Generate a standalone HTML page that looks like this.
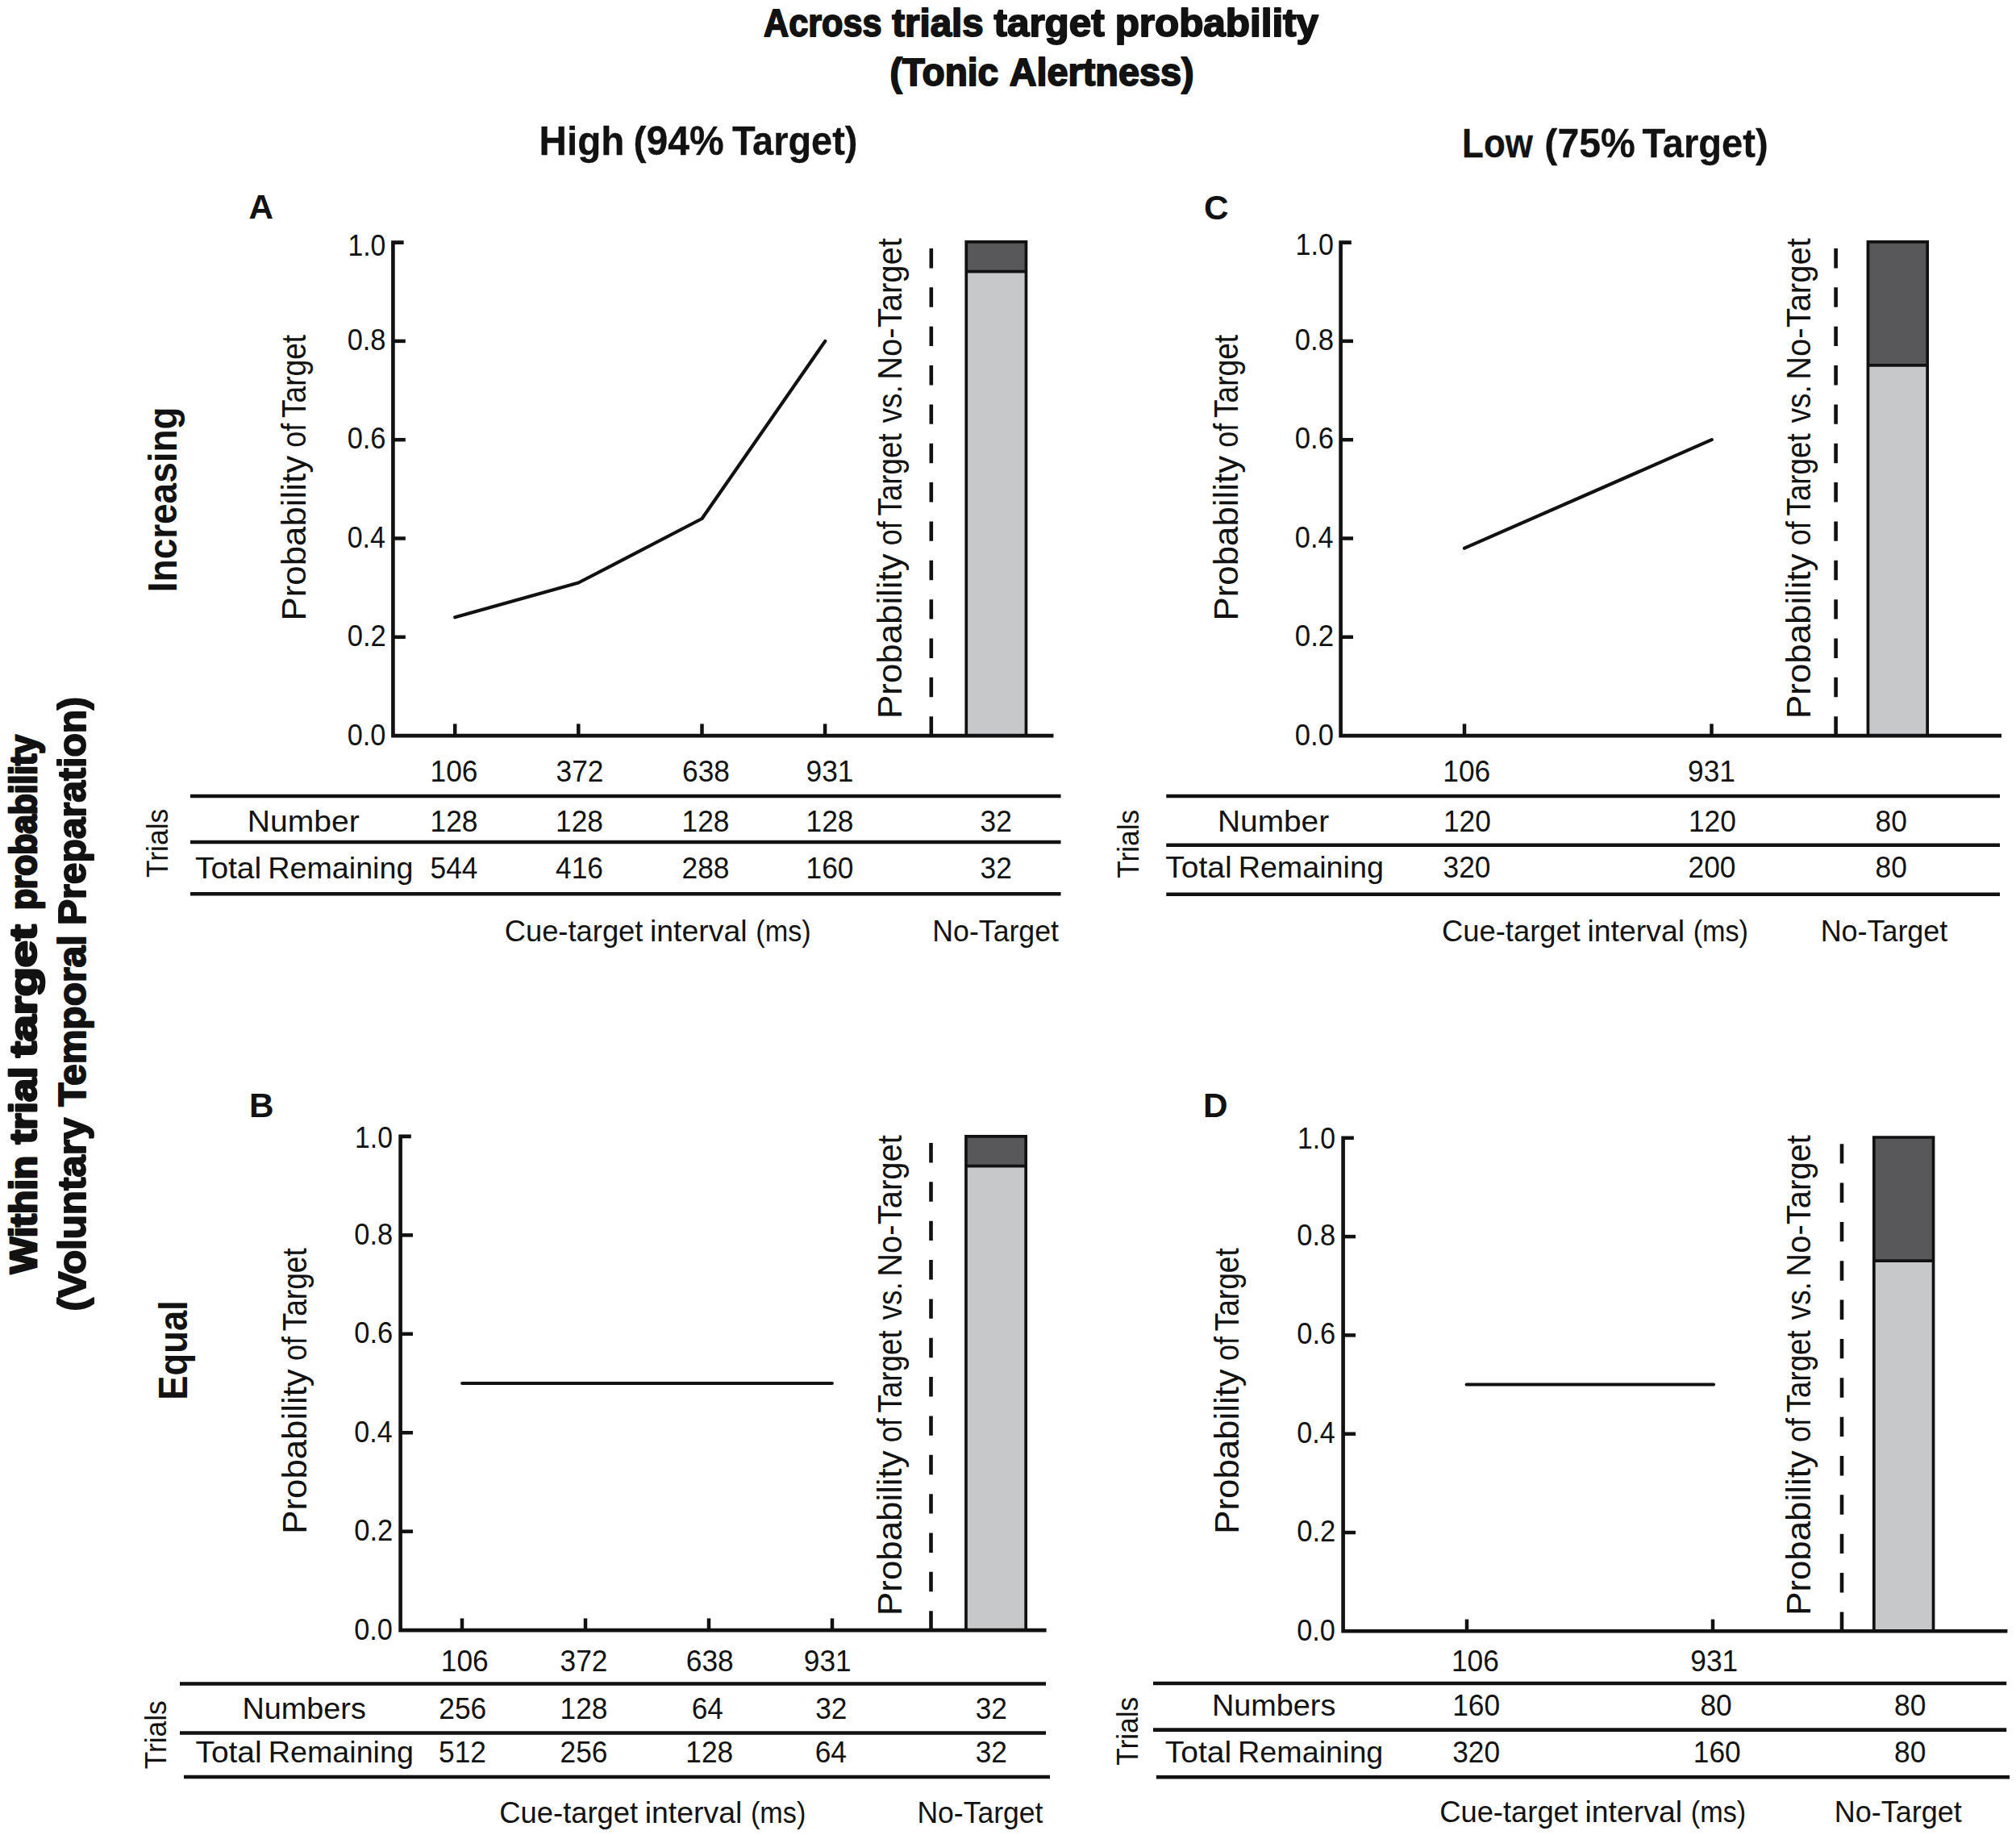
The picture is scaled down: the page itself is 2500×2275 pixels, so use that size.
<!DOCTYPE html>
<html><head><meta charset="utf-8"><title>Figure</title>
<style>html,body{margin:0;padding:0;background:#fff}svg{display:block;font-family:"Liberation Sans", sans-serif}</style>
</head><body>
<svg width="2500" height="2275" viewBox="0 0 2500 2275">
<rect width="2500" height="2275" fill="#fff"/>
<rect x="1198.25" y="299.80000000000007" width="74.20000000000005" height="36.738000000000056" fill="#58585a"/>
<rect x="1198.25" y="336.5380000000001" width="74.20000000000005" height="575.5619999999999" fill="#c7c8ca"/>
<path d="M1198.25 912.1 V299.80000000000007 H1272.45 V912.1" fill="none" stroke="#111" stroke-width="3.7"/>
<line x1="1198.25" y1="336.5380000000001" x2="1272.45" y2="336.5380000000001" stroke="#111" stroke-width="3.7"/>
<path d="M500.59999999999997 300.6 H487.4 V912.1 H1306.5" fill="none" stroke="#111" stroke-width="4.6" stroke-linejoin="miter"/>
<line x1="487.4" y1="789.8" x2="502.79999999999995" y2="789.8" stroke="#111" stroke-width="4.5"/>
<line x1="487.4" y1="667.5" x2="502.79999999999995" y2="667.5" stroke="#111" stroke-width="4.5"/>
<line x1="487.4" y1="545.2" x2="502.79999999999995" y2="545.2" stroke="#111" stroke-width="4.5"/>
<line x1="487.4" y1="422.9" x2="502.79999999999995" y2="422.9" stroke="#111" stroke-width="4.5"/>
<line x1="564.2" y1="912.1" x2="564.2" y2="897.4" stroke="#111" stroke-width="4.5"/>
<line x1="717.3" y1="912.1" x2="717.3" y2="897.4" stroke="#111" stroke-width="4.5"/>
<line x1="870.5" y1="912.1" x2="870.5" y2="897.4" stroke="#111" stroke-width="4.5"/>
<line x1="1023.1" y1="912.1" x2="1023.1" y2="897.4" stroke="#111" stroke-width="4.5"/>
<line x1="1154.8" y1="912.6" x2="1154.8" y2="308.0" stroke="#111" stroke-width="4.6" stroke-dasharray="24.4 23.95"/>
<polyline points="564.2,765.3 717.3,722.5 870.5,643.0 1023.3,422.9" fill="none" stroke="#111" stroke-width="4.2" stroke-linecap="round" stroke-linejoin="round"/>
<line x1="236" y1="987" x2="1315.5" y2="987" stroke="#111" stroke-width="4.6"/>
<line x1="236" y1="1044" x2="1315.5" y2="1044" stroke="#111" stroke-width="4.6"/>
<line x1="236" y1="1108.2" x2="1315.5" y2="1108.2" stroke="#111" stroke-width="4.6"/>
<rect x="2316.45" y="299.80000000000007" width="73.70000000000027" height="153.075" fill="#58585a"/>
<rect x="2316.45" y="452.87500000000006" width="73.70000000000027" height="459.22499999999997" fill="#c7c8ca"/>
<path d="M2316.45 912.1 V299.80000000000007 H2390.15 V912.1" fill="none" stroke="#111" stroke-width="3.7"/>
<line x1="2316.45" y1="452.87500000000006" x2="2390.15" y2="452.87500000000006" stroke="#111" stroke-width="3.7"/>
<path d="M1675.8 300.6 H1662.6 V912.1 H2482" fill="none" stroke="#111" stroke-width="4.6" stroke-linejoin="miter"/>
<line x1="1662.6" y1="789.8" x2="1678.0" y2="789.8" stroke="#111" stroke-width="4.5"/>
<line x1="1662.6" y1="667.5" x2="1678.0" y2="667.5" stroke="#111" stroke-width="4.5"/>
<line x1="1662.6" y1="545.2" x2="1678.0" y2="545.2" stroke="#111" stroke-width="4.5"/>
<line x1="1662.6" y1="422.9" x2="1678.0" y2="422.9" stroke="#111" stroke-width="4.5"/>
<line x1="1816" y1="912.1" x2="1816" y2="897.4" stroke="#111" stroke-width="4.5"/>
<line x1="2122.5" y1="912.1" x2="2122.5" y2="897.4" stroke="#111" stroke-width="4.5"/>
<line x1="2276.6" y1="912.6" x2="2276.6" y2="308.0" stroke="#111" stroke-width="4.6" stroke-dasharray="24.4 23.95"/>
<polyline points="1816,679.7 2122.7,545.2" fill="none" stroke="#111" stroke-width="4.2" stroke-linecap="round" stroke-linejoin="round"/>
<line x1="1446.25" y1="987" x2="2480" y2="987" stroke="#111" stroke-width="4.6"/>
<line x1="1446.25" y1="1047.8" x2="2480" y2="1047.8" stroke="#111" stroke-width="4.6"/>
<line x1="1446.25" y1="1108.8" x2="2480" y2="1108.8" stroke="#111" stroke-width="4.6"/>
<rect x="1197.95" y="1408.8" width="74.20000000000005" height="36.738000000000056" fill="#58585a"/>
<rect x="1197.95" y="1445.538" width="74.20000000000005" height="575.5619999999999" fill="#c7c8ca"/>
<path d="M1197.95 2021.1 V1408.8 H1272.15 V2021.1" fill="none" stroke="#111" stroke-width="3.7"/>
<line x1="1197.95" y1="1445.538" x2="1272.15" y2="1445.538" stroke="#111" stroke-width="3.7"/>
<path d="M509.8 1408.9 H496.6 V2021.1 H1297.6" fill="none" stroke="#111" stroke-width="4.6" stroke-linejoin="miter"/>
<line x1="496.6" y1="1898.6599999999999" x2="512.0" y2="1898.6599999999999" stroke="#111" stroke-width="4.5"/>
<line x1="496.6" y1="1776.22" x2="512.0" y2="1776.22" stroke="#111" stroke-width="4.5"/>
<line x1="496.6" y1="1653.78" x2="512.0" y2="1653.78" stroke="#111" stroke-width="4.5"/>
<line x1="496.6" y1="1531.3400000000001" x2="512.0" y2="1531.3400000000001" stroke="#111" stroke-width="4.5"/>
<line x1="573" y1="2021.1" x2="573" y2="2006.3999999999999" stroke="#111" stroke-width="4.5"/>
<line x1="726" y1="2021.1" x2="726" y2="2006.3999999999999" stroke="#111" stroke-width="4.5"/>
<line x1="879" y1="2021.1" x2="879" y2="2006.3999999999999" stroke="#111" stroke-width="4.5"/>
<line x1="1032" y1="2021.1" x2="1032" y2="2006.3999999999999" stroke="#111" stroke-width="4.5"/>
<line x1="1154.5" y1="2021.6" x2="1154.5" y2="1417.0" stroke="#111" stroke-width="4.6" stroke-dasharray="24.4 23.95"/>
<polyline points="573.2,1715.0 1031.8,1715.0" fill="none" stroke="#111" stroke-width="4.2" stroke-linecap="round" stroke-linejoin="round"/>
<line x1="223" y1="2087.5" x2="1297" y2="2087.5" stroke="#111" stroke-width="4.6"/>
<line x1="223" y1="2148.5" x2="1297" y2="2148.5" stroke="#111" stroke-width="4.6"/>
<line x1="228" y1="2203" x2="1302" y2="2203" stroke="#111" stroke-width="4.6"/>
<rect x="2323.85" y="1410.0" width="73.70000000000027" height="153.07500000000005" fill="#58585a"/>
<rect x="2323.85" y="1563.075" width="73.70000000000027" height="459.2249999999999" fill="#c7c8ca"/>
<path d="M2323.85 2022.3 V1410.0 H2397.55 V2022.3" fill="none" stroke="#111" stroke-width="3.7"/>
<line x1="2323.85" y1="1563.075" x2="2397.55" y2="1563.075" stroke="#111" stroke-width="3.7"/>
<path d="M1678.8 1410.8 H1665.6 V2022.3 H2489.4" fill="none" stroke="#111" stroke-width="4.6" stroke-linejoin="miter"/>
<line x1="1665.6" y1="1900.0" x2="1681.0" y2="1900.0" stroke="#111" stroke-width="4.5"/>
<line x1="1665.6" y1="1777.6999999999998" x2="1681.0" y2="1777.6999999999998" stroke="#111" stroke-width="4.5"/>
<line x1="1665.6" y1="1655.4" x2="1681.0" y2="1655.4" stroke="#111" stroke-width="4.5"/>
<line x1="1665.6" y1="1533.1" x2="1681.0" y2="1533.1" stroke="#111" stroke-width="4.5"/>
<line x1="1819" y1="2022.3" x2="1819" y2="2007.6" stroke="#111" stroke-width="4.5"/>
<line x1="2124" y1="2022.3" x2="2124" y2="2007.6" stroke="#111" stroke-width="4.5"/>
<line x1="2284" y1="2022.8" x2="2284" y2="1418.1999999999998" stroke="#111" stroke-width="4.6" stroke-dasharray="24.4 23.95"/>
<polyline points="1818.7,1716.5 2125,1716.5" fill="none" stroke="#111" stroke-width="4.2" stroke-linecap="round" stroke-linejoin="round"/>
<line x1="1430" y1="2087" x2="2488.2" y2="2087" stroke="#111" stroke-width="4.6"/>
<line x1="1430" y1="2144.6" x2="2488.2" y2="2144.6" stroke="#111" stroke-width="4.6"/>
<line x1="1433.9" y1="2203.3" x2="2492.1" y2="2203.3" stroke="#111" stroke-width="4.6"/>
<text x="947.07" y="44.50" font-size="48" font-weight="700" textLength="146.45" lengthAdjust="spacingAndGlyphs" stroke="#121212" stroke-width="1.9" stroke-linejoin="round" fill="#121212">Across</text>
<text x="1106.27" y="44.50" font-size="48" font-weight="700" textLength="113.32" lengthAdjust="spacingAndGlyphs" stroke="#121212" stroke-width="1.9" stroke-linejoin="round" fill="#121212">trials</text>
<text x="1232.55" y="44.50" font-size="48" font-weight="700" textLength="137.00" lengthAdjust="spacingAndGlyphs" stroke="#121212" stroke-width="1.9" stroke-linejoin="round" fill="#121212">target</text>
<text x="1382.70" y="44.50" font-size="48" font-weight="700" textLength="252.32" lengthAdjust="spacingAndGlyphs" stroke="#121212" stroke-width="1.9" stroke-linejoin="round" fill="#121212">probability</text>
<text x="1103.56" y="105.75" font-size="48" font-weight="700" textLength="134.64" lengthAdjust="spacingAndGlyphs" stroke="#121212" stroke-width="1.9" stroke-linejoin="round" fill="#121212">(Tonic</text>
<text x="1251.79" y="105.75" font-size="48" font-weight="700" textLength="228.79" lengthAdjust="spacingAndGlyphs" stroke="#121212" stroke-width="1.9" stroke-linejoin="round" fill="#121212">Alertness)</text>
<text x="668.56" y="191.50" font-size="50" font-weight="700" textLength="105.84" lengthAdjust="spacingAndGlyphs" stroke="#121212" stroke-width="0.3" stroke-linejoin="round" fill="#121212">High</text>
<text x="785.45" y="191.50" font-size="50" font-weight="700" textLength="112.37" lengthAdjust="spacingAndGlyphs" stroke="#121212" stroke-width="0.3" stroke-linejoin="round" fill="#121212">(94%</text>
<text x="907.92" y="191.50" font-size="50" font-weight="700" textLength="155.56" lengthAdjust="spacingAndGlyphs" stroke="#121212" stroke-width="0.3" stroke-linejoin="round" fill="#121212">Target)</text>
<text x="1813.11" y="195.30" font-size="50" font-weight="700" textLength="87.75" lengthAdjust="spacingAndGlyphs" stroke="#121212" stroke-width="0.3" stroke-linejoin="round" fill="#121212">Low</text>
<text x="1915.35" y="195.30" font-size="50" font-weight="700" textLength="112.57" lengthAdjust="spacingAndGlyphs" stroke="#121212" stroke-width="0.3" stroke-linejoin="round" fill="#121212">(75%</text>
<text x="2036.52" y="195.30" font-size="50" font-weight="700" textLength="156.18" lengthAdjust="spacingAndGlyphs" stroke="#121212" stroke-width="0.3" stroke-linejoin="round" fill="#121212">Target)</text>
<text x="44.70" y="1579.15" font-size="46.8" font-weight="700" textLength="146.22" lengthAdjust="spacingAndGlyphs" transform="rotate(-90 44.70 1579.15)" stroke="#121212" stroke-width="2.8" stroke-linejoin="round" fill="#121212">Within</text>
<text x="44.70" y="1418.24" font-size="46.8" font-weight="700" textLength="95.73" lengthAdjust="spacingAndGlyphs" transform="rotate(-90 44.70 1418.24)" stroke="#121212" stroke-width="2.8" stroke-linejoin="round" fill="#121212">trial</text>
<text x="44.70" y="1310.92" font-size="46.8" font-weight="700" textLength="164.34" lengthAdjust="spacingAndGlyphs" transform="rotate(-90 44.70 1310.92)" stroke="#121212" stroke-width="2.8" stroke-linejoin="round" fill="#121212">target</text>
<text x="44.70" y="1128.10" font-size="46.8" font-weight="700" textLength="216.93" lengthAdjust="spacingAndGlyphs" transform="rotate(-90 44.70 1128.10)" stroke="#121212" stroke-width="2.8" stroke-linejoin="round" fill="#121212">probability</text>
<text x="105.60" y="1625.60" font-size="48" font-weight="700" textLength="239.92" lengthAdjust="spacingAndGlyphs" transform="rotate(-90 105.60 1625.60)" stroke="#121212" stroke-width="1.9" stroke-linejoin="round" fill="#121212">(Voluntary</text>
<text x="105.60" y="1371.79" font-size="48" font-weight="700" textLength="212.44" lengthAdjust="spacingAndGlyphs" transform="rotate(-90 105.60 1371.79)" stroke="#121212" stroke-width="1.9" stroke-linejoin="round" fill="#121212">Temporal</text>
<text x="105.60" y="1147.07" font-size="48" font-weight="700" textLength="283.21" lengthAdjust="spacingAndGlyphs" transform="rotate(-90 105.60 1147.07)" stroke="#121212" stroke-width="1.9" stroke-linejoin="round" fill="#121212">Preparation)</text>
<text x="218.80" y="734.17" font-size="49.3" font-weight="700" textLength="229.75" lengthAdjust="spacingAndGlyphs" transform="rotate(-90 218.80 734.17)" fill="#121212">Increasing</text>
<text x="231.80" y="1735.73" font-size="49.3" font-weight="700" textLength="123.44" lengthAdjust="spacingAndGlyphs" transform="rotate(-90 231.80 1735.73)" fill="#121212">Equal</text>
<text x="430.66" y="923.60" font-size="36.6" font-weight="400" textLength="47.68" lengthAdjust="spacingAndGlyphs" fill="#121212">0.0</text>
<text x="430.65" y="801.15" font-size="36.6" font-weight="400" textLength="48.09" lengthAdjust="spacingAndGlyphs" fill="#121212">0.2</text>
<text x="430.67" y="678.70" font-size="36.6" font-weight="400" textLength="47.33" lengthAdjust="spacingAndGlyphs" fill="#121212">0.4</text>
<text x="430.65" y="556.25" font-size="36.6" font-weight="400" textLength="47.86" lengthAdjust="spacingAndGlyphs" fill="#121212">0.6</text>
<text x="430.66" y="433.80" font-size="36.6" font-weight="400" textLength="47.84" lengthAdjust="spacingAndGlyphs" fill="#121212">0.8</text>
<text x="431.43" y="316.55" font-size="36.6" font-weight="400" textLength="46.89" lengthAdjust="spacingAndGlyphs" fill="#121212">1.0</text>
<text x="379.30" y="769.50" font-size="42.4" font-weight="400" textLength="204.58" lengthAdjust="spacingAndGlyphs" transform="rotate(-90 379.30 769.50)" fill="#121212">Probability</text>
<text x="379.30" y="554.81" font-size="42.4" font-weight="400" textLength="30.06" lengthAdjust="spacingAndGlyphs" transform="rotate(-90 379.30 554.81)" fill="#121212">of</text>
<text x="379.30" y="518.03" font-size="42.4" font-weight="400" textLength="103.11" lengthAdjust="spacingAndGlyphs" transform="rotate(-90 379.30 518.03)" fill="#121212">Target</text>
<text x="1117.80" y="890.90" font-size="42.4" font-weight="400" textLength="204.58" lengthAdjust="spacingAndGlyphs" transform="rotate(-90 1117.80 890.90)" fill="#121212">Probability</text>
<text x="1117.80" y="676.21" font-size="42.4" font-weight="400" textLength="30.06" lengthAdjust="spacingAndGlyphs" transform="rotate(-90 1117.80 676.21)" fill="#121212">of</text>
<text x="1117.80" y="639.43" font-size="42.4" font-weight="400" textLength="102.09" lengthAdjust="spacingAndGlyphs" transform="rotate(-90 1117.80 639.43)" fill="#121212">Target</text>
<text x="1117.80" y="524.33" font-size="42.4" font-weight="400" textLength="47.09" lengthAdjust="spacingAndGlyphs" transform="rotate(-90 1117.80 524.33)" fill="#121212">vs.</text>
<text x="1117.80" y="470.78" font-size="42.4" font-weight="400" textLength="175.57" lengthAdjust="spacingAndGlyphs" transform="rotate(-90 1117.80 470.78)" fill="#121212">No-Target</text>
<text x="308.5" y="271" font-size="42.3" font-weight="700" fill="#121212">A</text>
<text x="533.55" y="969.00" font-size="36.6" font-weight="400" textLength="58.90" lengthAdjust="spacingAndGlyphs" fill="#121212">106</text>
<text x="689.55" y="969.00" font-size="36.6" font-weight="400" textLength="58.90" lengthAdjust="spacingAndGlyphs" fill="#121212">372</text>
<text x="846.05" y="969.00" font-size="36.6" font-weight="400" textLength="58.90" lengthAdjust="spacingAndGlyphs" fill="#121212">638</text>
<text x="999.55" y="969.00" font-size="36.6" font-weight="400" textLength="58.90" lengthAdjust="spacingAndGlyphs" fill="#121212">931</text>
<text x="306.80" y="1030.60" font-size="37.8" font-weight="400" textLength="138.85" lengthAdjust="spacingAndGlyphs" fill="#121212">Number</text>
<text x="241.93" y="1088.70" font-size="37.8" font-weight="400" textLength="82.23" lengthAdjust="spacingAndGlyphs" fill="#121212">Total</text>
<text x="332.21" y="1088.70" font-size="37.8" font-weight="400" textLength="180.22" lengthAdjust="spacingAndGlyphs" fill="#121212">Remaining</text>
<text x="533.55" y="1030.60" font-size="36.6" font-weight="400" textLength="58.90" lengthAdjust="spacingAndGlyphs" fill="#121212">128</text>
<text x="689.05" y="1030.60" font-size="36.6" font-weight="400" textLength="58.90" lengthAdjust="spacingAndGlyphs" fill="#121212">128</text>
<text x="845.55" y="1030.60" font-size="36.6" font-weight="400" textLength="58.90" lengthAdjust="spacingAndGlyphs" fill="#121212">128</text>
<text x="999.55" y="1030.60" font-size="36.6" font-weight="400" textLength="58.90" lengthAdjust="spacingAndGlyphs" fill="#121212">128</text>
<text x="1215.57" y="1030.60" font-size="36.6" font-weight="400" textLength="39.26" lengthAdjust="spacingAndGlyphs" fill="#121212">32</text>
<text x="533.55" y="1088.70" font-size="36.6" font-weight="400" textLength="58.90" lengthAdjust="spacingAndGlyphs" fill="#121212">544</text>
<text x="689.05" y="1088.70" font-size="36.6" font-weight="400" textLength="58.90" lengthAdjust="spacingAndGlyphs" fill="#121212">416</text>
<text x="845.55" y="1088.70" font-size="36.6" font-weight="400" textLength="58.90" lengthAdjust="spacingAndGlyphs" fill="#121212">288</text>
<text x="999.55" y="1088.70" font-size="36.6" font-weight="400" textLength="58.90" lengthAdjust="spacingAndGlyphs" fill="#121212">160</text>
<text x="1215.57" y="1088.70" font-size="36.6" font-weight="400" textLength="39.26" lengthAdjust="spacingAndGlyphs" fill="#121212">32</text>
<text x="207.90" y="1088.00" font-size="37.8" font-weight="400" textLength="85.28" lengthAdjust="spacingAndGlyphs" transform="rotate(-90 207.90 1088.00)" fill="#121212">Trials</text>
<text x="625.65" y="1166.50" font-size="37.8" font-weight="400" textLength="171.81" lengthAdjust="spacingAndGlyphs" fill="#121212">Cue-target</text>
<text x="806.00" y="1166.50" font-size="37.8" font-weight="400" textLength="120.61" lengthAdjust="spacingAndGlyphs" fill="#121212">interval</text>
<text x="937.28" y="1166.50" font-size="37.8" font-weight="400" textLength="68.34" lengthAdjust="spacingAndGlyphs" fill="#121212">(ms)</text>
<text x="1156.37" y="1166.50" font-size="37.8" font-weight="400" textLength="156.59" lengthAdjust="spacingAndGlyphs" fill="#121212">No-Target</text>
<text x="1605.85" y="923.60" font-size="36.6" font-weight="400" textLength="48.00" lengthAdjust="spacingAndGlyphs" fill="#121212">0.0</text>
<text x="1605.84" y="801.15" font-size="36.6" font-weight="400" textLength="48.41" lengthAdjust="spacingAndGlyphs" fill="#121212">0.2</text>
<text x="1605.86" y="678.70" font-size="36.6" font-weight="400" textLength="47.64" lengthAdjust="spacingAndGlyphs" fill="#121212">0.4</text>
<text x="1605.85" y="556.25" font-size="36.6" font-weight="400" textLength="48.18" lengthAdjust="spacingAndGlyphs" fill="#121212">0.6</text>
<text x="1605.85" y="433.80" font-size="36.6" font-weight="400" textLength="48.16" lengthAdjust="spacingAndGlyphs" fill="#121212">0.8</text>
<text x="1606.61" y="315.80" font-size="36.6" font-weight="400" textLength="47.22" lengthAdjust="spacingAndGlyphs" fill="#121212">1.0</text>
<text x="1535.00" y="769.50" font-size="42.4" font-weight="400" textLength="204.58" lengthAdjust="spacingAndGlyphs" transform="rotate(-90 1535.00 769.50)" fill="#121212">Probability</text>
<text x="1535.00" y="554.81" font-size="42.4" font-weight="400" textLength="30.06" lengthAdjust="spacingAndGlyphs" transform="rotate(-90 1535.00 554.81)" fill="#121212">of</text>
<text x="1535.00" y="518.03" font-size="42.4" font-weight="400" textLength="103.11" lengthAdjust="spacingAndGlyphs" transform="rotate(-90 1535.00 518.03)" fill="#121212">Target</text>
<text x="2244.70" y="890.90" font-size="42.4" font-weight="400" textLength="204.58" lengthAdjust="spacingAndGlyphs" transform="rotate(-90 2244.70 890.90)" fill="#121212">Probability</text>
<text x="2244.70" y="676.21" font-size="42.4" font-weight="400" textLength="30.06" lengthAdjust="spacingAndGlyphs" transform="rotate(-90 2244.70 676.21)" fill="#121212">of</text>
<text x="2244.70" y="639.43" font-size="42.4" font-weight="400" textLength="102.09" lengthAdjust="spacingAndGlyphs" transform="rotate(-90 2244.70 639.43)" fill="#121212">Target</text>
<text x="2244.70" y="524.33" font-size="42.4" font-weight="400" textLength="47.09" lengthAdjust="spacingAndGlyphs" transform="rotate(-90 2244.70 524.33)" fill="#121212">vs.</text>
<text x="2244.70" y="470.78" font-size="42.4" font-weight="400" textLength="175.57" lengthAdjust="spacingAndGlyphs" transform="rotate(-90 2244.70 470.78)" fill="#121212">No-Target</text>
<text x="1493" y="271.5" font-size="42.3" font-weight="700" fill="#121212">C</text>
<text x="1789.30" y="968.50" font-size="36.6" font-weight="400" textLength="58.90" lengthAdjust="spacingAndGlyphs" fill="#121212">106</text>
<text x="2093.05" y="968.50" font-size="36.6" font-weight="400" textLength="58.90" lengthAdjust="spacingAndGlyphs" fill="#121212">931</text>
<text x="1510.07" y="1030.50" font-size="37.8" font-weight="400" textLength="138.08" lengthAdjust="spacingAndGlyphs" fill="#121212">Number</text>
<text x="1445.38" y="1088.00" font-size="37.8" font-weight="400" textLength="82.23" lengthAdjust="spacingAndGlyphs" fill="#121212">Total</text>
<text x="1535.66" y="1088.00" font-size="37.8" font-weight="400" textLength="180.22" lengthAdjust="spacingAndGlyphs" fill="#121212">Remaining</text>
<text x="1789.95" y="1030.50" font-size="36.6" font-weight="400" textLength="58.90" lengthAdjust="spacingAndGlyphs" fill="#121212">120</text>
<text x="2093.95" y="1030.50" font-size="36.6" font-weight="400" textLength="58.90" lengthAdjust="spacingAndGlyphs" fill="#121212">120</text>
<text x="2325.57" y="1030.50" font-size="36.6" font-weight="400" textLength="39.26" lengthAdjust="spacingAndGlyphs" fill="#121212">80</text>
<text x="1789.55" y="1088.00" font-size="36.6" font-weight="400" textLength="58.90" lengthAdjust="spacingAndGlyphs" fill="#121212">320</text>
<text x="2093.55" y="1088.00" font-size="36.6" font-weight="400" textLength="58.90" lengthAdjust="spacingAndGlyphs" fill="#121212">200</text>
<text x="2325.57" y="1088.00" font-size="36.6" font-weight="400" textLength="39.26" lengthAdjust="spacingAndGlyphs" fill="#121212">80</text>
<text x="1411.75" y="1088.79" font-size="37.8" font-weight="400" textLength="85.07" lengthAdjust="spacingAndGlyphs" transform="rotate(-90 1411.75 1088.79)" fill="#121212">Trials</text>
<text x="1788.05" y="1166.50" font-size="37.8" font-weight="400" textLength="171.81" lengthAdjust="spacingAndGlyphs" fill="#121212">Cue-target</text>
<text x="1968.40" y="1166.50" font-size="37.8" font-weight="400" textLength="120.61" lengthAdjust="spacingAndGlyphs" fill="#121212">interval</text>
<text x="2099.68" y="1166.50" font-size="37.8" font-weight="400" textLength="68.34" lengthAdjust="spacingAndGlyphs" fill="#121212">(ms)</text>
<text x="2257.66" y="1166.50" font-size="37.8" font-weight="400" textLength="157.61" lengthAdjust="spacingAndGlyphs" fill="#121212">No-Target</text>
<text x="439.26" y="2032.60" font-size="36.6" font-weight="400" textLength="47.68" lengthAdjust="spacingAndGlyphs" fill="#121212">0.0</text>
<text x="439.25" y="1910.15" font-size="36.6" font-weight="400" textLength="48.09" lengthAdjust="spacingAndGlyphs" fill="#121212">0.2</text>
<text x="439.27" y="1787.70" font-size="36.6" font-weight="400" textLength="47.33" lengthAdjust="spacingAndGlyphs" fill="#121212">0.4</text>
<text x="439.25" y="1665.25" font-size="36.6" font-weight="400" textLength="47.86" lengthAdjust="spacingAndGlyphs" fill="#121212">0.6</text>
<text x="439.26" y="1542.80" font-size="36.6" font-weight="400" textLength="47.84" lengthAdjust="spacingAndGlyphs" fill="#121212">0.8</text>
<text x="440.03" y="1422.95" font-size="36.6" font-weight="400" textLength="46.89" lengthAdjust="spacingAndGlyphs" fill="#121212">1.0</text>
<text x="379.80" y="1901.80" font-size="42.4" font-weight="400" textLength="204.58" lengthAdjust="spacingAndGlyphs" transform="rotate(-90 379.80 1901.80)" fill="#121212">Probability</text>
<text x="379.80" y="1687.11" font-size="42.4" font-weight="400" textLength="30.06" lengthAdjust="spacingAndGlyphs" transform="rotate(-90 379.80 1687.11)" fill="#121212">of</text>
<text x="379.80" y="1650.33" font-size="42.4" font-weight="400" textLength="103.11" lengthAdjust="spacingAndGlyphs" transform="rotate(-90 379.80 1650.33)" fill="#121212">Target</text>
<text x="1118.00" y="2002.90" font-size="42.4" font-weight="400" textLength="204.58" lengthAdjust="spacingAndGlyphs" transform="rotate(-90 1118.00 2002.90)" fill="#121212">Probability</text>
<text x="1118.00" y="1788.21" font-size="42.4" font-weight="400" textLength="30.06" lengthAdjust="spacingAndGlyphs" transform="rotate(-90 1118.00 1788.21)" fill="#121212">of</text>
<text x="1118.00" y="1751.43" font-size="42.4" font-weight="400" textLength="102.09" lengthAdjust="spacingAndGlyphs" transform="rotate(-90 1118.00 1751.43)" fill="#121212">Target</text>
<text x="1118.00" y="1636.33" font-size="42.4" font-weight="400" textLength="47.09" lengthAdjust="spacingAndGlyphs" transform="rotate(-90 1118.00 1636.33)" fill="#121212">vs.</text>
<text x="1118.00" y="1582.78" font-size="42.4" font-weight="400" textLength="175.57" lengthAdjust="spacingAndGlyphs" transform="rotate(-90 1118.00 1582.78)" fill="#121212">No-Target</text>
<text x="309" y="1385" font-size="42.3" font-weight="700" fill="#121212">B</text>
<text x="546.75" y="2072.00" font-size="36.6" font-weight="400" textLength="58.90" lengthAdjust="spacingAndGlyphs" fill="#121212">106</text>
<text x="694.55" y="2072.00" font-size="36.6" font-weight="400" textLength="58.90" lengthAdjust="spacingAndGlyphs" fill="#121212">372</text>
<text x="850.75" y="2072.00" font-size="36.6" font-weight="400" textLength="58.90" lengthAdjust="spacingAndGlyphs" fill="#121212">638</text>
<text x="996.85" y="2072.00" font-size="36.6" font-weight="400" textLength="58.90" lengthAdjust="spacingAndGlyphs" fill="#121212">931</text>
<text x="300.40" y="2131.30" font-size="37.8" font-weight="400" textLength="153.47" lengthAdjust="spacingAndGlyphs" fill="#121212">Numbers</text>
<text x="242.43" y="2185.00" font-size="37.8" font-weight="400" textLength="82.23" lengthAdjust="spacingAndGlyphs" fill="#121212">Total</text>
<text x="332.71" y="2185.00" font-size="37.8" font-weight="400" textLength="180.22" lengthAdjust="spacingAndGlyphs" fill="#121212">Remaining</text>
<text x="544.35" y="2131.30" font-size="36.6" font-weight="400" textLength="58.90" lengthAdjust="spacingAndGlyphs" fill="#121212">256</text>
<text x="694.55" y="2131.30" font-size="36.6" font-weight="400" textLength="58.90" lengthAdjust="spacingAndGlyphs" fill="#121212">128</text>
<text x="857.67" y="2131.30" font-size="36.6" font-weight="400" textLength="39.26" lengthAdjust="spacingAndGlyphs" fill="#121212">64</text>
<text x="1011.17" y="2131.30" font-size="36.6" font-weight="400" textLength="39.26" lengthAdjust="spacingAndGlyphs" fill="#121212">32</text>
<text x="1209.67" y="2131.30" font-size="36.6" font-weight="400" textLength="39.26" lengthAdjust="spacingAndGlyphs" fill="#121212">32</text>
<text x="544.05" y="2185.00" font-size="36.6" font-weight="400" textLength="58.90" lengthAdjust="spacingAndGlyphs" fill="#121212">512</text>
<text x="694.55" y="2185.00" font-size="36.6" font-weight="400" textLength="58.90" lengthAdjust="spacingAndGlyphs" fill="#121212">256</text>
<text x="850.25" y="2185.00" font-size="36.6" font-weight="400" textLength="58.90" lengthAdjust="spacingAndGlyphs" fill="#121212">128</text>
<text x="1010.67" y="2185.00" font-size="36.6" font-weight="400" textLength="39.26" lengthAdjust="spacingAndGlyphs" fill="#121212">64</text>
<text x="1209.67" y="2185.00" font-size="36.6" font-weight="400" textLength="39.26" lengthAdjust="spacingAndGlyphs" fill="#121212">32</text>
<text x="205.70" y="2193.29" font-size="37.8" font-weight="400" textLength="85.07" lengthAdjust="spacingAndGlyphs" transform="rotate(-90 205.70 2193.29)" fill="#121212">Trials</text>
<text x="619.35" y="2259.60" font-size="37.8" font-weight="400" textLength="171.81" lengthAdjust="spacingAndGlyphs" fill="#121212">Cue-target</text>
<text x="799.70" y="2259.60" font-size="37.8" font-weight="400" textLength="120.61" lengthAdjust="spacingAndGlyphs" fill="#121212">interval</text>
<text x="930.98" y="2259.60" font-size="37.8" font-weight="400" textLength="68.34" lengthAdjust="spacingAndGlyphs" fill="#121212">(ms)</text>
<text x="1137.38" y="2259.60" font-size="37.8" font-weight="400" textLength="156.08" lengthAdjust="spacingAndGlyphs" fill="#121212">No-Target</text>
<text x="1608.26" y="2033.80" font-size="36.6" font-weight="400" textLength="47.68" lengthAdjust="spacingAndGlyphs" fill="#121212">0.0</text>
<text x="1608.25" y="1911.35" font-size="36.6" font-weight="400" textLength="48.09" lengthAdjust="spacingAndGlyphs" fill="#121212">0.2</text>
<text x="1608.27" y="1788.90" font-size="36.6" font-weight="400" textLength="47.33" lengthAdjust="spacingAndGlyphs" fill="#121212">0.4</text>
<text x="1608.25" y="1666.45" font-size="36.6" font-weight="400" textLength="47.86" lengthAdjust="spacingAndGlyphs" fill="#121212">0.6</text>
<text x="1608.26" y="1544.00" font-size="36.6" font-weight="400" textLength="47.84" lengthAdjust="spacingAndGlyphs" fill="#121212">0.8</text>
<text x="1609.03" y="1424.15" font-size="36.6" font-weight="400" textLength="46.89" lengthAdjust="spacingAndGlyphs" fill="#121212">1.0</text>
<text x="1536.00" y="1901.80" font-size="42.4" font-weight="400" textLength="204.58" lengthAdjust="spacingAndGlyphs" transform="rotate(-90 1536.00 1901.80)" fill="#121212">Probability</text>
<text x="1536.00" y="1687.11" font-size="42.4" font-weight="400" textLength="30.06" lengthAdjust="spacingAndGlyphs" transform="rotate(-90 1536.00 1687.11)" fill="#121212">of</text>
<text x="1536.00" y="1650.33" font-size="42.4" font-weight="400" textLength="103.11" lengthAdjust="spacingAndGlyphs" transform="rotate(-90 1536.00 1650.33)" fill="#121212">Target</text>
<text x="2245.20" y="2002.80" font-size="42.4" font-weight="400" textLength="204.58" lengthAdjust="spacingAndGlyphs" transform="rotate(-90 2245.20 2002.80)" fill="#121212">Probability</text>
<text x="2245.20" y="1788.11" font-size="42.4" font-weight="400" textLength="30.06" lengthAdjust="spacingAndGlyphs" transform="rotate(-90 2245.20 1788.11)" fill="#121212">of</text>
<text x="2245.20" y="1751.33" font-size="42.4" font-weight="400" textLength="102.09" lengthAdjust="spacingAndGlyphs" transform="rotate(-90 2245.20 1751.33)" fill="#121212">Target</text>
<text x="2245.20" y="1636.23" font-size="42.4" font-weight="400" textLength="47.09" lengthAdjust="spacingAndGlyphs" transform="rotate(-90 2245.20 1636.23)" fill="#121212">vs.</text>
<text x="2245.20" y="1582.68" font-size="42.4" font-weight="400" textLength="175.57" lengthAdjust="spacingAndGlyphs" transform="rotate(-90 2245.20 1582.68)" fill="#121212">No-Target</text>
<text x="1492" y="1385" font-size="42.3" font-weight="700" fill="#121212">D</text>
<text x="1799.95" y="2071.50" font-size="36.6" font-weight="400" textLength="58.90" lengthAdjust="spacingAndGlyphs" fill="#121212">106</text>
<text x="2096.25" y="2071.50" font-size="36.6" font-weight="400" textLength="58.90" lengthAdjust="spacingAndGlyphs" fill="#121212">931</text>
<text x="1502.90" y="2127.00" font-size="37.8" font-weight="400" textLength="153.47" lengthAdjust="spacingAndGlyphs" fill="#121212">Numbers</text>
<text x="1444.83" y="2185.20" font-size="37.8" font-weight="400" textLength="82.23" lengthAdjust="spacingAndGlyphs" fill="#121212">Total</text>
<text x="1535.11" y="2185.20" font-size="37.8" font-weight="400" textLength="180.22" lengthAdjust="spacingAndGlyphs" fill="#121212">Remaining</text>
<text x="1801.15" y="2127.00" font-size="36.6" font-weight="400" textLength="58.90" lengthAdjust="spacingAndGlyphs" fill="#121212">160</text>
<text x="2108.47" y="2127.00" font-size="36.6" font-weight="400" textLength="39.26" lengthAdjust="spacingAndGlyphs" fill="#121212">80</text>
<text x="2349.07" y="2127.00" font-size="36.6" font-weight="400" textLength="39.26" lengthAdjust="spacingAndGlyphs" fill="#121212">80</text>
<text x="1801.15" y="2185.20" font-size="36.6" font-weight="400" textLength="58.90" lengthAdjust="spacingAndGlyphs" fill="#121212">320</text>
<text x="2099.75" y="2185.20" font-size="36.6" font-weight="400" textLength="58.90" lengthAdjust="spacingAndGlyphs" fill="#121212">160</text>
<text x="2349.07" y="2185.20" font-size="36.6" font-weight="400" textLength="39.26" lengthAdjust="spacingAndGlyphs" fill="#121212">80</text>
<text x="1411.50" y="2188.79" font-size="37.8" font-weight="400" textLength="85.07" lengthAdjust="spacingAndGlyphs" transform="rotate(-90 1411.50 2188.79)" fill="#121212">Trials</text>
<text x="1785.15" y="2259.20" font-size="37.8" font-weight="400" textLength="171.81" lengthAdjust="spacingAndGlyphs" fill="#121212">Cue-target</text>
<text x="1965.50" y="2259.20" font-size="37.8" font-weight="400" textLength="120.61" lengthAdjust="spacingAndGlyphs" fill="#121212">interval</text>
<text x="2096.78" y="2259.20" font-size="37.8" font-weight="400" textLength="68.34" lengthAdjust="spacingAndGlyphs" fill="#121212">(ms)</text>
<text x="2274.65" y="2259.20" font-size="37.8" font-weight="400" textLength="158.02" lengthAdjust="spacingAndGlyphs" fill="#121212">No-Target</text>
</svg>
</body></html>
